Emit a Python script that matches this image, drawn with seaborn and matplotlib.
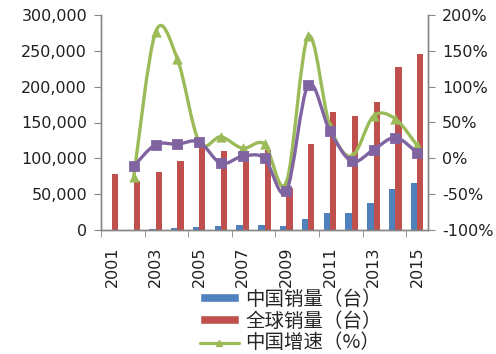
import numpy as np
import pandas as pd
import matplotlib
matplotlib.use("Agg")
import matplotlib.pyplot as plt
from matplotlib.path import Path
from matplotlib.patches import PathPatch, Rectangle
from matplotlib.lines import Line2D
import seaborn as sns

# data
years = [str(y) for y in range(2001, 2016)]
china_sales = [0, 0, 1400, 3300, 4700, 6100, 7000, 7500, 6000, 15300, 23200, 23200, 37100, 57000, 65900]
global_sales = [77500, 67700, 80700, 96900, 119200, 110800, 110500, 112000, 58400, 120200, 164700, 158600, 178600, 228100, 246200]
growth_years = years[1:]
china_growth = [-26, 176, 139, 23, 30, 14, 20, -34, 170, 45, 3, 59, 55, 18]
global_growth = [-11, 19, 19.6, 23, -7, 3, 0, -46, 102, 38, -4, 12, 29, 8]

lbl_china = "中国销量（台）"
lbl_global = "全球销量（台）"
lbl_growth = "中国增速（%）"

c_blue = "#4F81BD"
c_red = "#C0504D"
c_green = "#9BBB59"
c_purple = "#8064A2"
c_axis = "#868686"

sns.set_style("white")
plt.rcParams["font.family"] = ["DejaVu Sans", "Noto Sans CJK SC"]

df = pd.DataFrame({
    "year": years * 2,
    "sales": china_sales + global_sales,
    "series": [lbl_china] * len(years) + [lbl_global] * len(years),
})

fig = plt.figure(figsize=(4.96, 3.54), dpi=100)
ax = fig.add_axes([101 / 496, 1 - 230 / 354, 327 / 496, 215 / 354])

sns.barplot(data=df, x="year", y="sales", hue="series", hue_order=[lbl_china, lbl_global],
            palette=[c_blue, c_red], width=0.58, gap=0, saturation=1, linewidth=0,
            legend=False, ax=ax)


def smooth_path(xs, ys):
    # excel-like smoothed line (catmull-rom as bezier segments)
    pts = np.column_stack([xs, ys]).astype(float)
    n = len(pts)
    verts = [pts[0]]
    codes = [Path.MOVETO]
    for i in range(n - 1):
        p0 = pts[max(i - 1, 0)]
        p1 = pts[i]
        p2 = pts[i + 1]
        p3 = pts[min(i + 2, n - 1)]
        verts += [p1 + (p2 - p0) / 6, p2 - (p3 - p1) / 6, p2]
        codes += [Path.CURVE4] * 3
    return Path(verts, codes)


ax2 = ax.twinx()
gx = np.arange(1, len(years))
ax2.add_patch(PathPatch(smooth_path(gx, china_growth), fill=False, edgecolor=c_green, lw=2.4, zorder=3))
sns.scatterplot(x=gx, y=china_growth, marker="^", s=45, color=c_green, edgecolor=c_green, ax=ax2, zorder=4)
ax2.add_patch(PathPatch(smooth_path(gx, global_growth), fill=False, edgecolor=c_purple, lw=2.4, zorder=5))
sns.scatterplot(x=gx, y=global_growth, marker="s", s=50, color=c_purple, edgecolor=c_purple, ax=ax2, zorder=6)

# left axis
ax.set_ylim(0, 300000)
ax.set_yticks(range(0, 300001, 50000))
ax.set_yticklabels([f"{v:,}" for v in range(0, 300001, 50000)])
ax.set_xlim(-0.5, len(years) - 0.5)
ax.set_xticks(range(0, len(years), 2))
ax.set_xticklabels(years[::2], rotation=90)
ax.set_xticks(np.arange(-0.5, len(years) - 1, 2), minor=True)
ax.tick_params(axis="x", which="major", length=0, pad=12, labelsize=11.5, colors="#202020")
ax.tick_params(axis="x", which="minor", length=5, color=c_axis, bottom=True)
ax.tick_params(axis="y", length=5, color=c_axis, left=True, labelsize=11.5, pad=5, labelcolor="#202020")
ax.set_xlabel("")
ax.set_ylabel("")

# right axis
ax2.set_ylim(-100, 200)
ax2.set_yticks(range(-100, 201, 50))
ax2.set_yticklabels([f"{v}%" for v in range(-100, 201, 50)])
ax2.tick_params(axis="y", length=5, color=c_axis, right=True, labelsize=11.5, pad=5, labelcolor="#202020")
ax2.set_xlim(-0.5, len(years) - 0.5)
ax2.set_ylabel("")

for a in (ax, ax2):
    a.spines["top"].set_visible(False)
    for s in ("left", "right", "bottom"):
        a.spines[s].set_color(c_axis)
        a.spines[s].set_linewidth(1)

handles = [
    Rectangle((0, 0), 1, 1, facecolor=c_blue),
    Rectangle((0, 0), 1, 1, facecolor=c_red),
    Line2D([0], [0], color=c_green, lw=2.3, marker="^", markersize=5),
]
fig.legend(handles, [lbl_china, lbl_global, lbl_growth], loc="center",
           bbox_to_anchor=(291 / 496, 1 - 321 / 354), frameon=False,
           prop={"family": ["Noto Sans CJK SC", "DejaVu Sans"], "size": 14},
           handlelength=2.0, handleheight=0.35, handletextpad=0.35, labelspacing=0.05,
           borderpad=0)

fig.savefig("out.png", dpi=100)
